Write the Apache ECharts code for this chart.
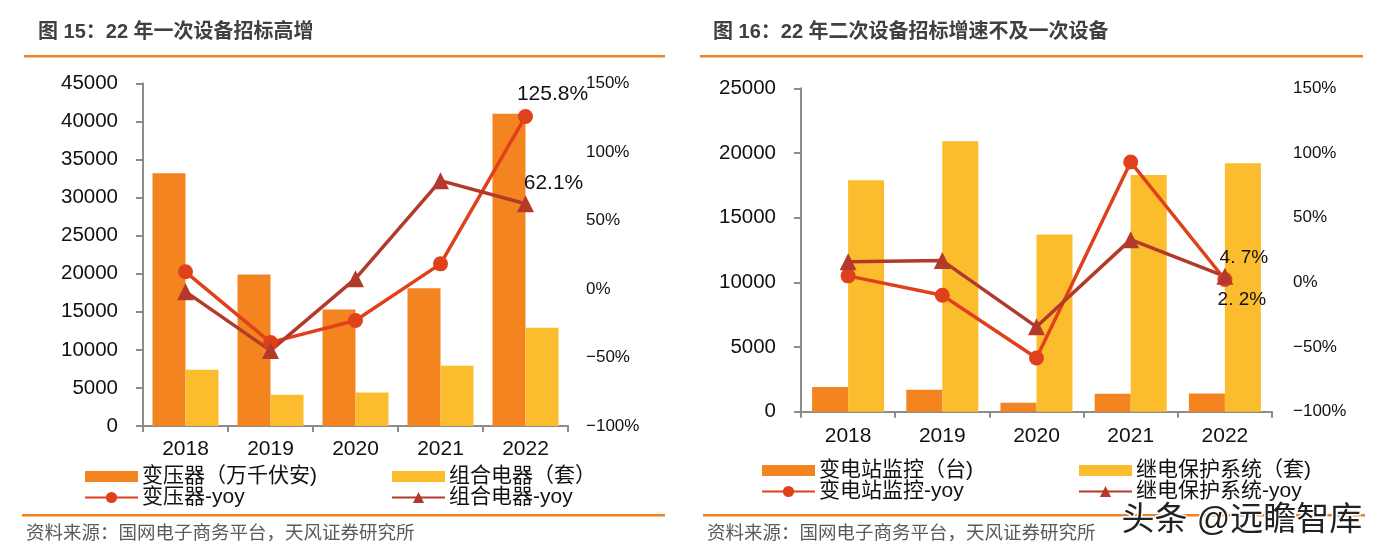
<!DOCTYPE html>
<html>
<head>
<meta charset="utf-8">
<script src="https://cdn.jsdelivr.net/npm/echarts@6/dist/echarts.min.js"></script>
<style>
html,body{margin:0;padding:0;background:#fff;}
#c{width:1396px;height:556px;}
</style>
</head>
<body>
<div id="c"></div>
<script>
// ---- data ----
const years = ['2018', '2019', '2020', '2021', '2022'];

// Figure 15
const title1 = '图 15：22 年一次设备招标高增';
const transformer = [33200, 19900, 15300, 18100, 41000];     // 变压器（万千伏安）
const combined = [7400, 4100, 4400, 7900, 12900];             // 组合电器（套）
const transformerYoy = [12.5, -39, -23, 18.3, 125.8];        // 变压器-yoy (%)
const combinedYoy = [-2, -45, 7.5, 79, 62.1];                 // 组合电器-yoy (%)
const names1 = ['变压器（万千伏安)', '组合电器（套）', '变压器-yoy', '组合电器-yoy'];
const labels1 = ['125.8%', '62.1%'];

// Figure 16
const title2 = '图 16：22 年二次设备招标增速不及一次设备';
const monitoring = [1900, 1700, 700, 1380, 1410];             // 变电站监控（台）
const relay = [17900, 20900, 13700, 18300, 19200];            // 继电保护系统（套）
const monitoringYoy = [5, -10, -58.5, 93, 2.2];               // 变电站监控-yoy (%)
const relayYoy = [16, 16.8, -34.4, 33, 4.7];                  // 继电保护系统-yoy (%)
const names2 = ['变电站监控（台)', '继电保护系统（套)', '变电站监控-yoy', '继电保护系统-yoy'];
const labels2 = ['2. 2%', '4. 7%'];

const source = '资料来源：国网电子商务平台，天风证券研究所';
const watermark = '头条 @远瞻智库';

// ---- styles ----
const C_ORANGE = '#F3841F';
const C_YELLOW = '#FBBD2D';
const C_RED = '#E0411D';
const C_BROWN = '#B33A2B';
const AXIS_GRAY = '#8c8c8c';
const FONT = 'Liberation Sans, Arial, "Noto Sans CJK SC", sans-serif';
const CJK = 'Liberation Sans, "Noto Sans CJK SC", sans-serif';
const BAR_ICON = 'path://M0 0H53V11H0Z';

function pctFmt(v) { return v < 0 ? '\u2212' + Math.abs(v) + '%' : v + '%'; }

function xAxisCfg(gridIndex, margin) {
  return {
    type: 'category', gridIndex, data: years,
    axisLine: { lineStyle: { color: AXIS_GRAY, width: 2 } },
    axisTick: { show: true, length: 6, lineStyle: { color: AXIS_GRAY, width: 2 } },
    axisLabel: { color: '#111', fontSize: 21, fontFamily: FONT, margin }
  };
}
function yLeftCfg(gridIndex, max) {
  return {
    type: 'value', gridIndex, min: 0, max, interval: 5000,
    splitLine: { show: false },
    axisLine: { show: true, lineStyle: { color: AXIS_GRAY, width: 2 } },
    axisTick: { show: true, length: 7, lineStyle: { color: AXIS_GRAY, width: 2 } },
    axisLabel: { color: '#111', fontSize: 20.5, fontFamily: FONT, margin: 25,
      formatter: v => String(v) }
  };
}
function yRightCfg(gridIndex, margin) {
  return {
    type: 'value', gridIndex, min: -100, max: 150, interval: 50, position: 'right',
    splitLine: { show: false }, axisLine: { show: false }, axisTick: { show: false },
    axisLabel: { color: '#111', fontSize: 17, fontFamily: FONT, margin, formatter: pctFmt }
  };
}
function barSeries(name, data, xi, yi, color, w) {
  return { type: 'bar', name, data, xAxisIndex: xi, yAxisIndex: yi, barWidth: w, barGap: '0%',
    itemStyle: { color }, z: 2 };
}
function lineSeries(name, data, xi, yi, color, symbol, size, label) {
  const d = data.map((v, i) => {
    if (label && i === data.length - 1) {
      return { value: v, label: Object.assign({ show: true, formatter: label.text, color: '#111',
        fontSize: label.fs, fontFamily: FONT }, label.pos) };
    }
    return v;
  });
  return { type: 'line', name, data: d, xAxisIndex: xi, yAxisIndex: yi, symbol, symbolSize: size,
    showAllSymbol: true, lineStyle: { color, width: 3.5 }, itemStyle: { color }, z: 5 };
}
function legendCol(barName, lineName, left, top) {
  return {
    data: [{ name: barName, icon: BAR_ICON }, { name: lineName }],
    left, top, orient: 'vertical', selectedMode: false, symbolKeepAspect: true,
    itemWidth: 53, itemHeight: 14, itemGap: 0, padding: 0,
    textStyle: { fontSize: 21, fontFamily: CJK, color: '#111', lineHeight: 20.5, padding: [0, 0, 0, -1] }
  };
}

const option = {
  animation: false,
  backgroundColor: '#fff',
  title: [
    { text: title1, left: 38, top: 22, padding: 0,
      textStyle: { fontSize: 20, fontWeight: 'bold', color: '#404040', fontFamily: CJK } },
    { text: title2, left: 713, top: 22, padding: 0,
      textStyle: { fontSize: 20, fontWeight: 'bold', color: '#404040', fontFamily: CJK } }
  ],
  grid: [
    { left: 143, top: 83.3, width: 425, height: 342.7 },
    { left: 801, top: 88.3, width: 471, height: 323.4 }
  ],
  xAxis: [xAxisCfg(0, 13), xAxisCfg(1, 14)],
  yAxis: [yLeftCfg(0, 45000), yRightCfg(0, 18), yLeftCfg(1, 25000), yRightCfg(1, 21)],
  legend: [
    legendCol(names1[0], names1[2], 84, 466),
    legendCol(names1[1], names1[3], 391, 466),
    legendCol(names2[0], names2[2], 761, 460),
    legendCol(names2[1], names2[3], 1078, 460)
  ],
  series: [
    barSeries(names1[0], transformer, 0, 0, C_ORANGE, 33),
    barSeries(names1[1], combined, 0, 0, C_YELLOW, 33),
    lineSeries(names1[2], transformerYoy, 0, 1, C_RED, 'circle', 15,
      { text: labels1[0], fs: 21, pos: { position: 'top', distance: 4, offset: [27, 0] } }),
    lineSeries(names1[3], combinedYoy, 0, 1, C_BROWN, 'triangle', 17,
      { text: labels1[1], fs: 21, pos: { position: 'top', distance: 2, offset: [28, 0] } }),
    barSeries(names2[0], monitoring, 1, 2, C_ORANGE, 36),
    barSeries(names2[1], relay, 1, 2, C_YELLOW, 36),
    lineSeries(names2[2], monitoringYoy, 1, 3, C_RED, 'circle', 15,
      { text: labels2[0], fs: 19, pos: { position: 'bottom', distance: 3, offset: [17, 0] } }),
    lineSeries(names2[3], relayYoy, 1, 3, C_BROWN, 'triangle', 17,
      { text: labels2[1], fs: 19, pos: { position: 'top', distance: 0, offset: [19, 0] } })
  ],
  graphic: [
    { type: 'rect', shape: { x: 24, y: 55, width: 641, height: 2.5 }, style: { fill: '#F08122' } },
    { type: 'rect', shape: { x: 700, y: 55, width: 663, height: 2.5 }, style: { fill: '#F08122' } },
    { type: 'rect', shape: { x: 22, y: 514, width: 643, height: 2.5 }, style: { fill: '#F08122' } },
    { type: 'rect', shape: { x: 703, y: 514, width: 662, height: 2.5 }, style: { fill: '#F08122' } },
    { type: 'text', left: 26, top: 525, style: { text: source, fontSize: 18.5, fill: '#5a5a5a', fontFamily: CJK } },
    { type: 'text', left: 707, top: 525, style: { text: source, fontSize: 18.5, fill: '#5a5a5a', fontFamily: CJK } },
    { type: 'text', left: 1120, top: 503, z: 100,
      style: { text: watermark, fontSize: 33, fill: '#222', fontFamily: CJK,
        stroke: '#fff', lineWidth: 3 } }
  ]
};

const chart = echarts.init(document.getElementById('c'), null, { renderer: 'canvas' });
chart.setOption(option);
</script>
</body>
</html>
